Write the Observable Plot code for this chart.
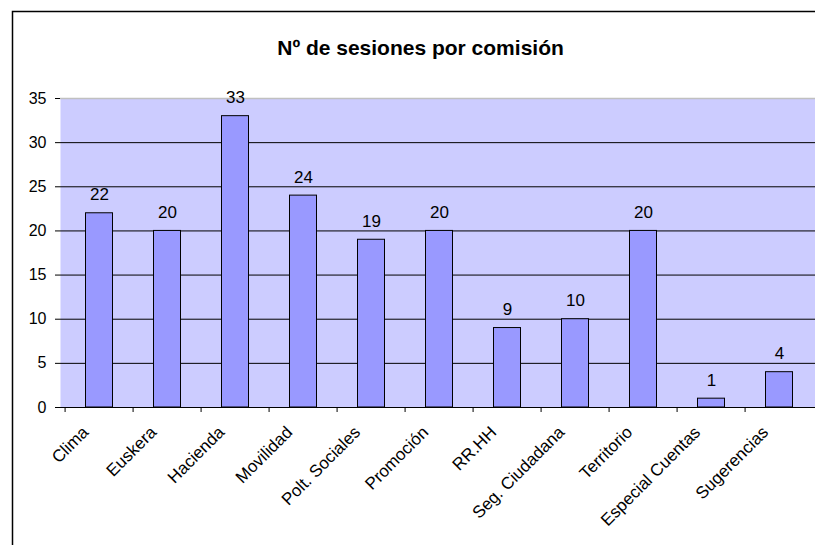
<!DOCTYPE html>
<html>
<head>
<meta charset="utf-8">
<script src="https://cdn.jsdelivr.net/npm/d3@7"></script>
<script src="https://cdn.jsdelivr.net/npm/@observablehq/plot@0.6"></script>
<style>
  html, body { margin: 0; padding: 0; background: #fff; }
  #chart { position: relative; width: 815px; height: 545px; overflow: hidden; }
  svg { font-family: "Liberation Sans", Arial, sans-serif; }
</style>
</head>
<body>
<div id="chart"></div>
<script>
const title = "Nº de sesiones por comisión";
const categories = ["Clima", "Euskera", "Hacienda", "Movilidad", "Polt. Sociales", "Promoción", "RR.HH", "Seg. Ciudadana", "Territorio", "Especial Cuentas", "Sugerencias"];
const sessions = [22, 20, 33, 24, 19, 20, 9, 10, 20, 1, 4];
const yTicks = [0, 5, 10, 15, 20, 25, 30, 35];
const gridLines = [5, 10, 15, 20, 25, 30];

const data = categories.map((c, i) => ({category: c, value: sessions[i]}));

const W = 815, H = 545;
const mL = 60, mR = -2, mT = 98, mB = 138;
const step = (W - mL - mR) / categories.length;

const plot = Plot.plot({
  width: W,
  height: H,
  marginLeft: mL,
  marginRight: mR,
  marginTop: mT,
  marginBottom: mB,
  style: {fontFamily: '"Liberation Sans", Arial, sans-serif', fontSize: "16px", color: "#000", background: "transparent"},
  x: {domain: categories, padding: 0, label: null},
  y: {domain: [0, 35], label: null},
  marks: [
    Plot.frame({fill: "#ccccff", stroke: null}),
    Plot.ruleY(gridLines, {stroke: "#000", strokeWidth: 1}),
    Plot.ruleY([35], {stroke: "#c0c0c0", strokeWidth: 1.5}),
    Plot.barY(data, {x: "category", y: "value", fill: "#9999ff", stroke: "#000", strokeWidth: 1, insetLeft: 20.5, insetRight: 20.5}),
    Plot.text(data, {x: "category", y: "value", text: d => String(d.value), dy: -18.5, fontSize: 17, fill: "#000"}),
    Plot.ruleX(categories, {x: d => d, dx: -step / 2, stroke: "#000", insetTop: H - mT - mB, insetBottom: -5}),
    Plot.ruleX([0], {stroke: "#000", strokeWidth: 1}),
    Plot.axisY({ticks: yTicks, tickSize: 5, tickPadding: 9, fontSize: 16, tickFormat: d => String(d), anchor: "left"}),
    Plot.axisX({tickSize: 0, tickPadding: 22, dx: -14, tickRotate: -45, fontSize: 17}),
    Plot.ruleY([0], {stroke: "#000", strokeWidth: 1}),
    Plot.text([title], {frameAnchor: "top", dy: -58, dx: -18.5, fontSize: 21, fontWeight: "bold", fill: "#000"})
  ]
});

document.getElementById("chart").appendChild(plot);

// chart-area border (left and top), as in the original spreadsheet chart
d3.select(plot).append("path")
  .attr("d", `M12.5,${H} V11.5 H${W}`)
  .attr("fill", "none")
  .attr("stroke", "#000")
  .attr("stroke-width", 1.5);
</script>
</body>
</html>
